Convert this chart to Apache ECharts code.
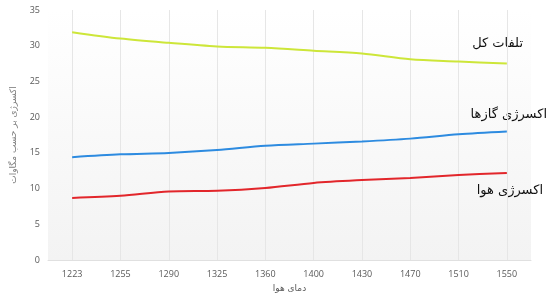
<!DOCTYPE html>
<html><head><meta charset="utf-8">
<script src="https://cdn.jsdelivr.net/npm/echarts@6/dist/echarts.min.js"></script>
<style>html,body{margin:0;padding:0;background:#fff}#c{width:547px;height:298px}</style>
</head><body><div id="c"></div>
<script>
var categories = ['1223','1255','1290','1325','1360','1400','1430','1470','1510','1550'];
var totalLoss = [31.9, 31.0, 30.4, 29.9, 29.7, 29.3, 28.9, 28.1, 27.8, 27.5];
var gasExergy = [14.4, 14.8, 15.0, 15.4, 16.0, 16.3, 16.6, 17.0, 17.6, 18.0];
var airExergy = [8.7, 9.0, 9.6, 9.7, 10.1, 10.8, 11.2, 11.5, 11.9, 12.2];
var seriesNames = ['تلفات کل', 'اکسرژی گازها', 'اکسرژی هوا'];
var xName = 'دمای هوا';
var yName = 'اکسرژی بر حسب مگاوات';

var chart = echarts.init(document.getElementById('c'), null, {renderer: 'canvas'});
var fa = '"DejaVu Sans", sans-serif';
var num = '"Open Sans", "Liberation Sans", sans-serif';
chart.setOption({
  animation: false,
  backgroundColor: '#fff',
  grid: {
    left: 48, right: 16, top: 10, bottom: 36,
    show: true, borderWidth: 0,
    backgroundColor: new echarts.graphic.LinearGradient(0, 0, 0, 1, [
      {offset: 0, color: '#ffffff'}, {offset: 1, color: '#f3f3f3'}
    ])
  },
  xAxis: {
    type: 'category', data: categories, boundaryGap: true,
    name: xName, nameLocation: 'middle', nameGap: 22,
    nameTextStyle: {fontFamily: fa, fontSize: 9, color: '#595959'},
    axisLine: {show: true, lineStyle: {color: '#e0e0e0'}},
    axisTick: {show: false, alignWithLabel: true},
    axisLabel: {fontFamily: num, fontSize: 9, color: '#595959', margin: 10},
    splitLine: {show: true, alignWithLabel: true, lineStyle: {color: '#e6e6e6', width: 1}}
  },
  yAxis: {
    type: 'value', min: 0, max: 35, interval: 5,
    name: yName, nameLocation: 'middle', nameGap: 30, nameRotate: 90,
    nameTextStyle: {fontFamily: fa, fontSize: 9, color: '#7f7f7f'},
    axisLine: {show: false}, axisTick: {show: false},
    axisLabel: {fontFamily: num, fontSize: 9, color: '#595959', margin: 8},
    splitLine: {show: false}
  },
  series: [
    {name: seriesNames[0], type: 'line', data: totalLoss, smooth: 0.3, symbol: 'none',
     lineStyle: {color: '#cde639', width: 2}},
    {name: seriesNames[1], type: 'line', data: gasExergy, smooth: 0.3, symbol: 'none',
     lineStyle: {color: '#2d8be0', width: 2}},
    {name: seriesNames[2], type: 'line', data: airExergy, smooth: 0.3, symbol: 'none',
     lineStyle: {color: '#e2262b', width: 2}}
  ],
  graphic: [
    {type: 'text', right: 24, top: 37, style: {text: seriesNames[0], font: '13px "DejaVu Sans"', fill: '#111'}},
    {type: 'text', right: 0, top: 108, style: {text: seriesNames[1], font: '13px "DejaVu Sans"', fill: '#111'}},
    {type: 'text', right: 4, top: 184, style: {text: seriesNames[2], font: '13px "DejaVu Sans"', fill: '#111'}}
  ]
});
</script></body></html>
